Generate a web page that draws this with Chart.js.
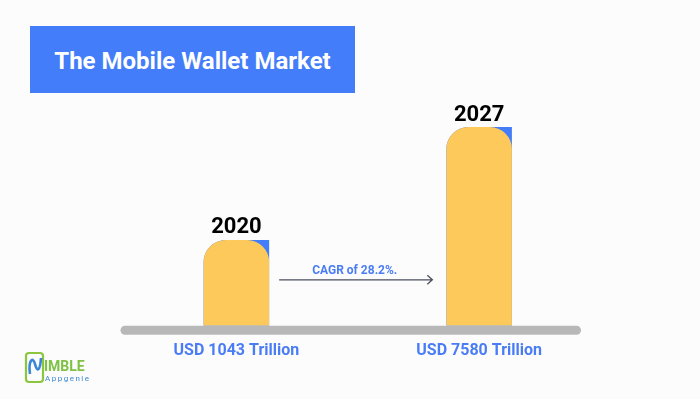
<!DOCTYPE html>
<html>
<head>
<meta charset="utf-8">
<script src="https://cdn.jsdelivr.net/npm/chart.js@4/dist/chart.umd.min.js"></script>
<style>
  html, body { margin: 0; padding: 0; background: #fcfcfc; }
  #wrap { position: relative; width: 700px; height: 399px; overflow: hidden; }
  #titulo {
    position: absolute; left: 30px; top: 26px; width: 325px; height: 67px;
    background: #437df9; color: #fff; font: bold 24px Roboto, sans-serif;
    display: flex; align-items: center; justify-content: center; padding-top: 3px; box-sizing: border-box;
  }
  canvas { position: absolute; left: 0; top: 0; }
</style>
</head>
<body>
<div id="wrap">
  <canvas id="grafico" width="700" height="399"></canvas>
  <div id="titulo">The Mobile Wallet Market</div>
</div>
<script>
// Dados
const anos = ['2020', '2027'];
const rotulos = ['USD 1043 Trillion', 'USD 7580 Trillion'];
const valores = [1043, 7580];
const cagr = 'CAGR of 28.2%.';

const AMARELO = '#fcc95a';
const AZUL = '#437df9';
const AZUL_TEXTO = '#4a7cf5';

// Textos e enfeites desenhados por cima das barras
const decoracao = {
    id: 'decoracao',
    afterDatasetsDraw(chart) {
        const { ctx, chartArea, scales } = chart;
        const barras = chart.getDatasetMeta(0).data;

        // linha de base cinza arredondada
        ctx.save();
        ctx.strokeStyle = '#b8b8b8';
        ctx.lineWidth = 9;
        ctx.lineCap = 'round';
        ctx.beginPath();
        ctx.moveTo(scales.x.left + 10, chartArea.bottom + 4.5);
        ctx.lineTo(scales.x.right - 24, chartArea.bottom + 4.5);
        ctx.stroke();

        // anos acima das barras
        ctx.fillStyle = '#000';
        ctx.font = 'bold 22px Roboto, sans-serif';
        ctx.textAlign = 'center';
        ctx.textBaseline = 'middle';
        barras.forEach((b, i) => ctx.fillText(anos[i], b.x, b.y - 12));

        // seta do CAGR
        const x1 = barras[0].x + barras[0].width / 2 + 10;
        const x2 = barras[1].x - barras[1].width / 2 - 14;
        const y = chartArea.bottom - 46;
        ctx.strokeStyle = '#4b4f5c';
        ctx.lineWidth = 1.3;
        ctx.lineCap = 'butt';
        ctx.beginPath();
        ctx.moveTo(x1, y);
        ctx.lineTo(x2, y);
        ctx.moveTo(x2 - 5, y - 4.5);
        ctx.lineTo(x2, y);
        ctx.lineTo(x2 - 5, y + 4.5);
        ctx.stroke();
        ctx.fillStyle = AZUL_TEXTO;
        ctx.font = 'bold 12px Roboto, sans-serif';
        ctx.fillText(cagr, (x1 + x2) / 2 - 1, y - 9);

        // logotipo
        ctx.strokeStyle = '#8cc63f';
        ctx.lineWidth = 2.2;
        ctx.beginPath();
        ctx.roundRect(26, 353, 17, 29, 3);
        ctx.stroke();
        ctx.strokeStyle = '#3a86d6';
        ctx.lineWidth = 2.6;
        ctx.beginPath();
        ctx.moveTo(30, 374);
        ctx.bezierCurveTo(28, 360, 33, 356, 35, 364);
        ctx.bezierCurveTo(37, 372, 40, 372, 41, 358);
        ctx.stroke();
        ctx.fillStyle = '#7dc242';
        ctx.font = 'bold 14px Roboto, sans-serif';
        ctx.textAlign = 'left';
        ctx.textBaseline = 'alphabetic';
        ctx.fillText('IMBLE', 44, 371);
        ctx.fillStyle = '#3a86d6';
        ctx.font = '8px Roboto, sans-serif';
        ctx.letterSpacing = '1.5px';
        ctx.fillText('Appgenie', 45, 381);
        ctx.restore();
    },
};

new Chart(document.getElementById('grafico'), {
    type: 'bar',
    data: {
        labels: rotulos,
        datasets: [
            {
                data: valores,
                backgroundColor: AMARELO,
                borderRadius: { topLeft: 22, topRight: 22, bottomLeft: 0, bottomRight: 0 },
                borderSkipped: false,
                grouped: false,
            },
            {
                data: valores,
                backgroundColor: AZUL,
                borderRadius: { topLeft: 22, topRight: 0, bottomLeft: 0, bottomRight: 0 },
                borderSkipped: false,
                grouped: false,
            },
        ],
    },
    options: {
        responsive: false,
        animation: false,
        layout: { padding: { left: 115, right: 99.5, top: 60, bottom: 22 } },
        datasets: { bar: { categoryPercentage: 1, barPercentage: 0.27 } },
        plugins: { legend: { display: false }, tooltip: { enabled: false } },
        scales: {
            x: {
                grid: { display: false, drawTicks: false },
                border: { display: false },
                ticks: {
                    color: AZUL_TEXTO,
                    font: { family: 'Roboto, sans-serif', size: 16, weight: 'bold' },
                    padding: 16,
                    maxRotation: 0,
                },
            },
            // escala log: mantém a proporção visual das barras da imagem
            y: { type: 'logarithmic', display: false, min: 231, max: 24600 },
        },
    },
    plugins: [decoracao],
});
</script>
</body>
</html>
